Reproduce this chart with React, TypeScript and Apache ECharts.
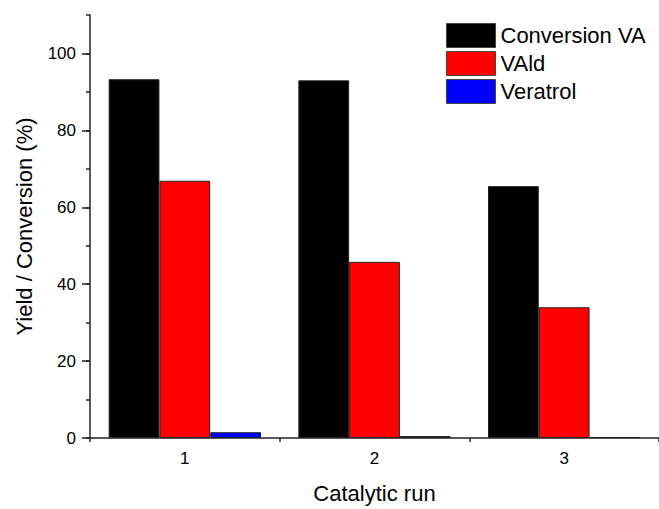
import React, { useEffect, useRef } from "react";
import * as echarts from "echarts";

const categories = ["1", "2", "3"];
const conversionVA = [93.3, 93.0, 65.5];
const vald = [66.9, 45.8, 34.0];
const veratrol = [1.5, 0.5, 0.25];
const seriesNames = ["Conversion VA", "VAld", "Veratrol"];
const seriesColors = ["#000000", "#ff0000", "#0000ff"];

const FONT = "Arial, 'Liberation Sans', sans-serif";

export default function App() {
  const ref = useRef<HTMLDivElement>(null);
  useEffect(() => {
    if (!ref.current) return;
    const chart = echarts.init(ref.current, undefined, { renderer: "svg" });
    const dataSets = [conversionVA, vald, veratrol];
    chart.setOption({
      animation: false,
      backgroundColor: "#ffffff",
      textStyle: { fontFamily: FONT },
      grid: { left: 90, top: 15, width: 571.5, height: 427 },
      legend: {
        orient: "vertical",
        left: 441,
        top: 18,
        itemWidth: 49,
        itemHeight: 24,
        itemGap: 3,
        icon: "rect",
        data: seriesNames,
        textStyle: { fontSize: 22, color: "#000", fontFamily: FONT },
        itemStyle: { borderColor: "#444", borderWidth: 1 },
      },
      xAxis: [
        {
          type: "category",
          data: categories,
          boundaryGap: true,
          position: "bottom",
          name: "Catalytic run",
          nameLocation: "middle",
          nameGap: 44,
          nameTextStyle: { fontSize: 22, color: "#000", fontFamily: FONT },
          axisLine: { lineStyle: { color: "#222", width: 1.5 } },
          axisTick: { alignWithLabel: true, length: 7, lineStyle: { color: "#222", width: 1.5 } },
          axisLabel: { fontSize: 17, color: "#000", margin: 12, fontFamily: FONT },
          splitLine: { show: false },
        },
        {
          type: "value",
          min: 0,
          max: 3,
          interval: 1,
          position: "bottom",
          axisLine: { show: false },
          axisTick: { show: true, length: 4, lineStyle: { color: "#222", width: 1.5 } },
          axisLabel: { show: false },
          splitLine: { show: false },
        },
      ],
      yAxis: [
        {
          type: "value",
          min: 0,
          max: 110,
          interval: 20,
          position: "left",
          name: "Yield / Conversion (%)",
          nameLocation: "middle",
          nameGap: 55,
          nameTextStyle: { fontSize: 22, color: "#000", fontFamily: FONT },
          axisLine: { show: true, lineStyle: { color: "#222", width: 1.5 } },
          axisTick: { show: true, length: 8, lineStyle: { color: "#222", width: 1.5 } },
          axisLabel: {
            fontSize: 17,
            color: "#000",
            margin: 14,
            fontFamily: FONT,
            showMaxLabel: false,
            formatter: (v: number) => (v % 20 === 0 ? String(v) : ""),
          },
          splitLine: { show: false },
        },
        {
          type: "value",
          min: 0,
          max: 110,
          interval: 10,
          position: "left",
          axisLine: { show: false },
          axisTick: { show: true, length: 4, lineStyle: { color: "#222", width: 1.5 } },
          axisLabel: { show: false },
          splitLine: { show: false },
        },
      ],
      series: seriesNames.map((name, i) => ({
        name,
        type: "bar",
        xAxisIndex: 0,
        yAxisIndex: 0,
        data: dataSets[i],
        barGap: "0%",
        barCategoryGap: "19.7%",
        itemStyle: { color: seriesColors[i], borderColor: "#222", borderWidth: 1 },
      })),
    });
    return () => chart.dispose();
  }, []);
  return (
    <div
      ref={ref}
      style={{ position: "fixed", left: 0, top: 0, width: 659, height: 509, overflow: "hidden" }}
    />
  );
}
